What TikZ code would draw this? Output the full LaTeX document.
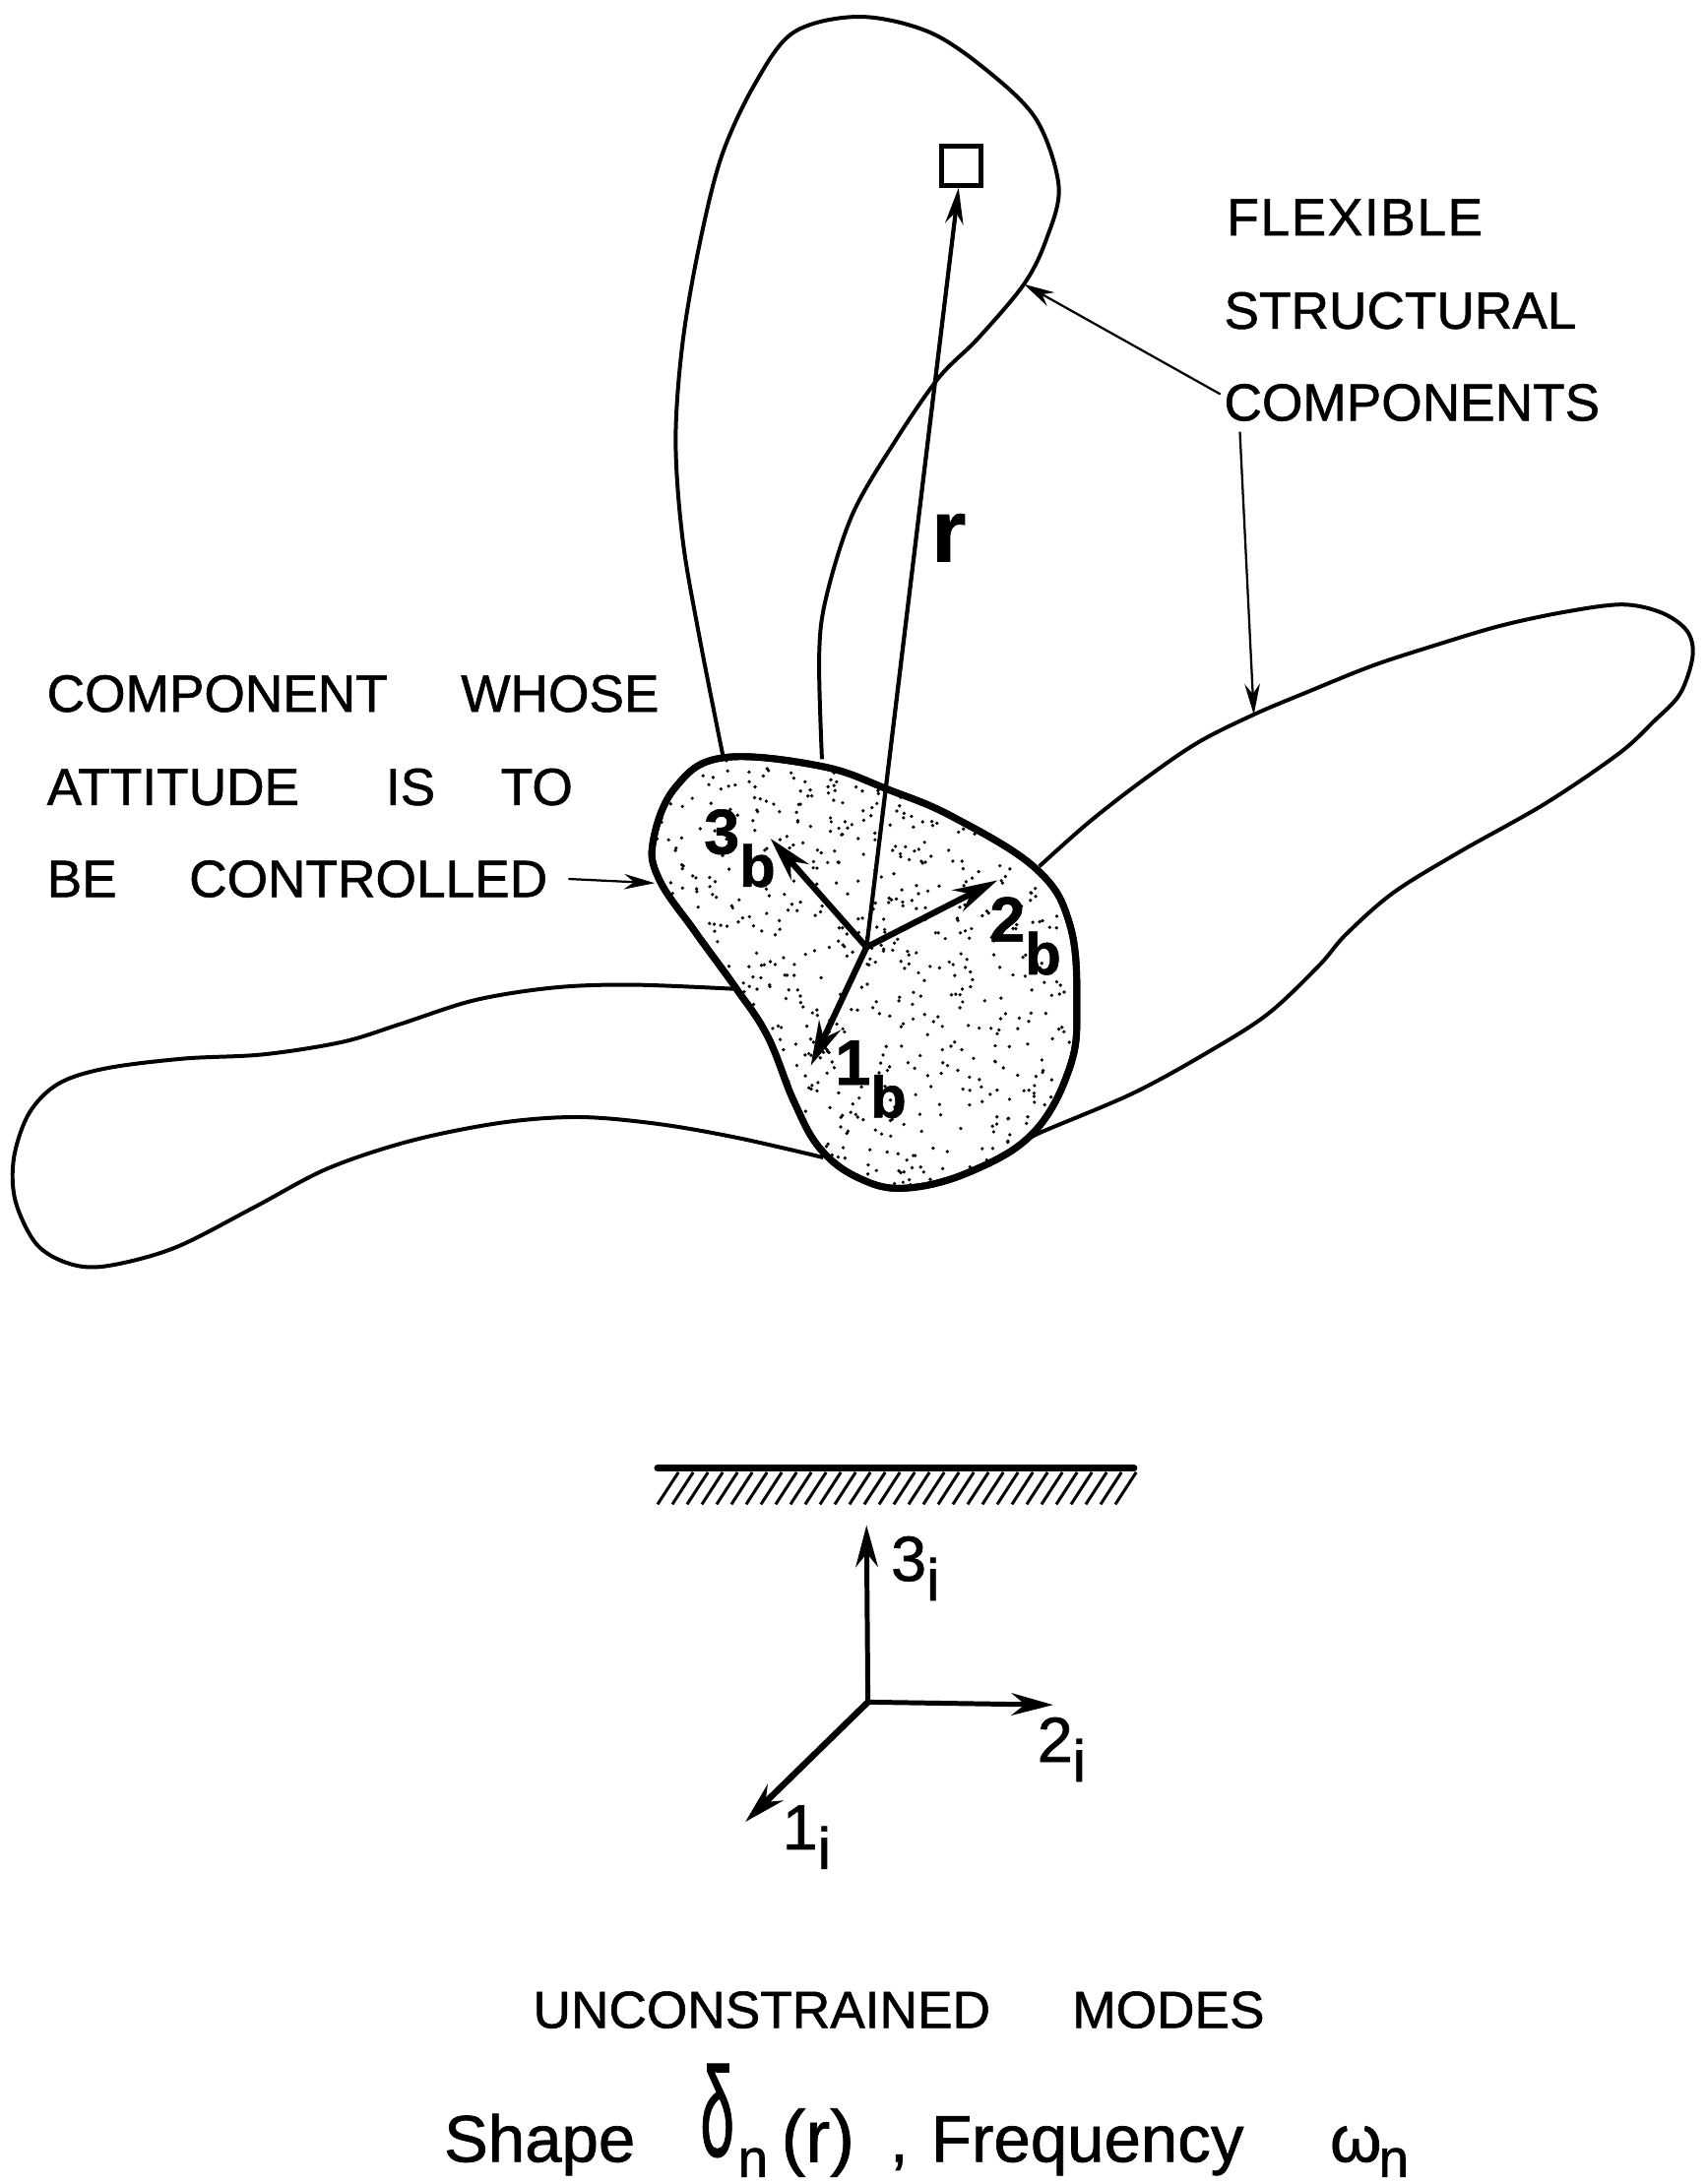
\documentclass[tikz,border=0pt]{standalone}
\usepackage{fontspec}
\setmainfont{Liberation Sans}[FakeBold=1]
\usetikzlibrary{arrows.meta,positioning}
\newcommand{\axisLbl}[3]{#1\raisebox{-#3}{\fontsize{12}{14}\selectfont #2}}
\newcommand{\hubPath}{plot[smooth cycle,tension=.65] coordinates {
  (519,544) (589,550) (638,567) (685,587) (744,624) (768,664) (773,721)
  (768,766) (742,813) (697,841) (650,853) (617,846) (589,825) (570,791)
  (551,744) (528,709) (499,669) (473,631) (469,603) (485,565)}}

\begin{document}
\begin{tikzpicture}[x=0.01cm,y=-0.01cm,
  lobe/.style={draw,line width=.8pt,line join=round},
  hub/.style={draw,line width=1.4pt,fill=white},
  arr/.style={-{Stealth[length=3.2mm,width=1.7mm]},line width=1.25pt},
  iarr/.style={-{Stealth[length=3mm,width=1.6mm]},line width=1pt},
  leader/.style={-{Stealth[length=2.2mm,width=1.1mm]},line width=.45pt},
  lbl/.style={font=\fontsize{10.7}{13}\selectfont,anchor=west,inner sep=0pt},
  axlbl/.style={font=\fontsize{13}{15}\selectfont\bfseries,inner sep=0pt},
  ilbl/.style={font=\fontsize{13}{15}\selectfont,inner sep=0pt},
  caption/.style={font=\fontsize{13.5}{16}\selectfont,anchor=base west,inner sep=0pt}]
  \useasboundingbox (0,0) rectangle (1224,1568);
  % Flexible lobes
  \draw[lobe] plot[smooth,tension=.55] coordinates {
    (519,543) (502,457) (490,387) (485,316) (490,246) (502,176) (518,112)
    (542,60) (570,23) (617,12) (667,23) (709,51) (744,86) (760,134) (751,172)
    (735,204) (702,243) (674,271) (643,316) (612,369) (593,429) (588,471)
    (590,545)};
  \draw[lobe] plot[smooth,tension=.55] coordinates {
    (746,622) (782,590) (822,559) (860,533) (900,513) (938,497) (985,478)
    (1031,463) (1078,449) (1125,439) (1165,434) (1193,440) (1211,453)
    (1215,471) (1206,498) (1187,518) (1162,541) (1109,577) (1047,612)
    (1000,641) (966,671) (947,693) (910,728) (866,756) (813,785) (747,813)
    (735,820)};
  \draw[lobe] plot[smooth,tension=.55] coordinates {
    (528,710) (454,707) (398,709) (341,718) (288,735) (246,748) (189,757)
    (132,760) (76,767) (42,778) (21,799) (10,831) (11,862) (26,893) (49,907)
    (76,909) (125,896) (182,867) (235,839) (295,819) (360,806) (416,802)
    (473,807) (530,817) (591,831)};
  % Stippled hub
  \draw[hub] \hubPath;
  \begin{scope}
    \clip \hubPath;
    \pgfmathsetseed{7}
    \foreach \i in {1,...,850}{
      \pgfmathsetmacro{\dotx}{621+(rnd-.5)*310}
      \pgfmathsetmacro{\doty}{698+(rnd-.5)*310}
      \fill (\dotx,\doty) circle (1.3);
    }
  \end{scope}
  \draw[hub,fill=none] \hubPath;
  % Body axes
  \coordinate (OB) at (622,680);
  \coordinate (B3) at (553,602);
  \coordinate (B2) at (716,632);
  \coordinate (B1) at (582,765);
  \node[draw,line width=1pt,minimum width=.28cm,minimum height=.28cm,inner sep=0pt] (PT) at (690,119) {};
  \draw[iarr,-{Stealth[length=2.6mm,width=1.3mm]},line width=.85pt] (OB)--(PT);
  \draw[arr] (OB)--(B3);
  \draw[arr] (OB)--(B2);
  \draw[arr] (OB)--(B1);
  \node[axlbl] (L3B) at (531,609) {\axisLbl{3}{b}{6.7pt}};
  \node[axlbl] (L2B) at (736,672) {\axisLbl{2}{b}{6.7pt}};
  \node[axlbl] (L1B) at (625,775) {\axisLbl{1}{b}{6.7pt}};
  \node[font=\fontsize{18}{20}\selectfont\bfseries,inner sep=0pt] (RV) at (681,386) {r};
  % Callouts
  \node[lbl] (FX) at (880,156) {\addfontfeature{LetterSpace=3}FLEXIBLE};
  \node[lbl] (ST) at (878,223) {STRUCTURAL};
  \node[lbl] (CP) at (878,289) {COMPONENTS};
  \node[lbl] (CA) at (33,498) {COMPONENT\hspace{1.4em}WHOSE};
  \node[lbl] (CB) at (33,565) {ATTITUDE\hspace{1.65em}IS\hspace{1.25em}TO};
  \node[lbl] (CC) at (33,631) {BE\hspace{1.38em}CONTROLLED};
  \coordinate (S1) at (876,283);
  \coordinate (E1) at (735,204);
  \coordinate (S2) at (890,310);
  \coordinate (E2) at (900,513);
  \coordinate (S3) at (408,631);
  \coordinate (E3) at (470,634);
  \draw[leader] (S1)--(E1);
  \draw[leader] (S2)--(E2);
  \draw[leader] (S3)--(E3);
  % Ground
  \coordinate (GL) at (472,1054);
  \coordinate (GR) at (814,1054);
  \draw[line width=1.4pt,line cap=round] (GL)--(GR);
  \foreach \x in {472,482.6,...,801}
    \draw[line width=.6pt] (\x,1080)--++(15,-23);
  % Inertial axes
  \coordinate (OI) at (623,1222);
  \coordinate (I3) at (622,1095);
  \coordinate (I2) at (756,1224);
  \coordinate (I1) at (535,1308);
  \draw[iarr] (OI)--(I3);
  \draw[iarr] (OI)--(I2);
  \draw[iarr,line width=1.3pt] (OI)--(I1);
  \node[ilbl] (L3I) at (657,1126) {\axisLbl{3}{i}{4pt}};
  \node[ilbl] (L2I) at (762,1256) {\axisLbl{2}{i}{4pt}};
  \node[ilbl] (L1I) at (579,1319) {\axisLbl{1}{i}{4pt}};
  % Caption
  \node[lbl] (UC) at (382,1443) {UNCONSTRAINED};
  \node[lbl] (MD) at (769,1443) {MODES};
  \node[caption] (SH) at (318,1552) {Shape};
  \node[caption,font=\fontsize{26}{28}\selectfont] (DL) at (502,1548) {\scalebox{.48}[1]{δ}};
  \node[caption,font=\fontsize{11}{13}\selectfont] (DN) at (529,1563) {n};
  \node[caption,font=\fontsize{15}{17}\selectfont] (AR) at (560,1552) {(r)};
  \node[caption] (FQ) at (638,1552) {,\hspace{.35em}Frequency};
  \node[caption] (OM) at (954,1552) {ω};
  \node[caption,font=\fontsize{11}{13}\selectfont] (ON) at (989,1563) {n};
\end{tikzpicture}
\end{document}
